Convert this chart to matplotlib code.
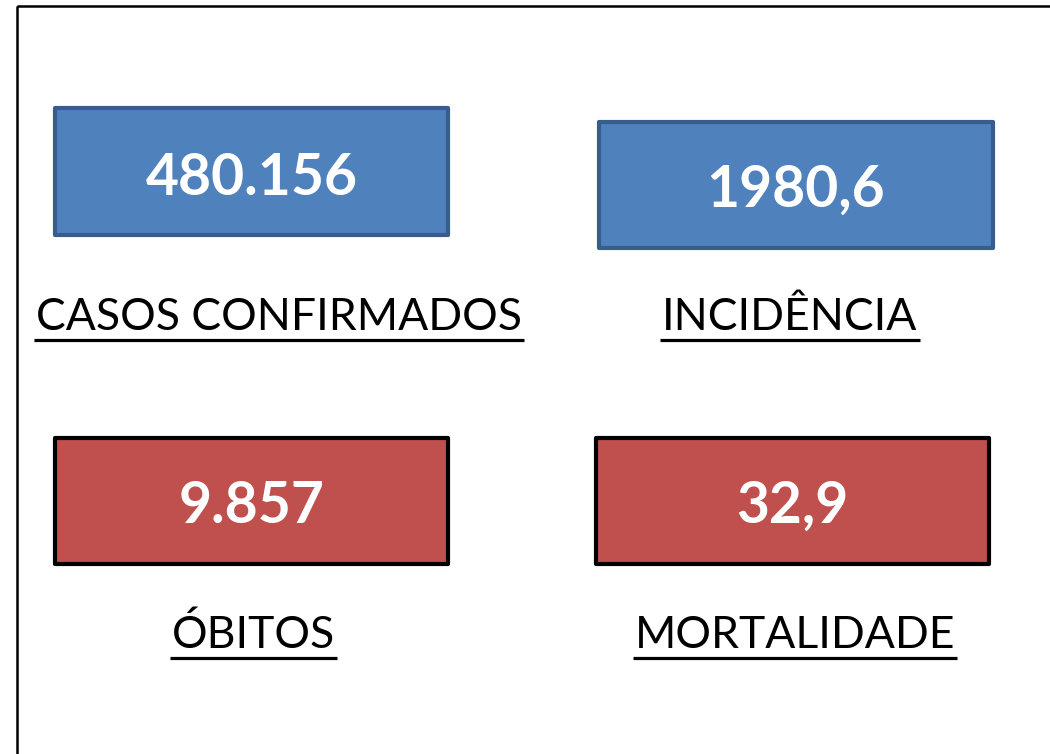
import matplotlib
matplotlib.use("Agg")
import matplotlib.pyplot as plt
from matplotlib.patches import Rectangle

# ---- data ----
values = ["480.156", "1980,6", "9.857", "32,9"]
labels = ["CASOS CONFIRMADOS", "INCIDÊNCIA", "ÓBITOS", "MORTALIDADE"]
fill_colors = ["#4F81BD", "#4F81BD", "#C0504D", "#C0504D"]
edge_colors = ["#385D8A", "#385D8A", "#000000", "#000000"]

# ---- layout (pixel coordinates) ----
W, H = 1050, 754
boxes = [(55, 108, 448, 235), (599, 122, 993, 248),
         (55, 438, 448, 564), (596, 438, 989, 564)]
value_baselines = [195, 207, 523, 523]
label_pos = [(279, 330), (790, 330), (253.5, 648), (795, 648)]

fig = plt.figure(figsize=(W / 100, H / 100), dpi=100)
ax = fig.add_axes([0, 0, 1, 1])
ax.set_xlim(0, W)
ax.set_ylim(H, 0)
ax.axis("off")

# outer frame (extends beyond the image)
ax.add_patch(Rectangle((16.5, 5.5), W + 50, H + 50, fill=False,
                       edgecolor="black", linewidth=1.8))

for (x0, y0, x1, y1), fc, ec, v, bl in zip(boxes, fill_colors, edge_colors,
                                           values, value_baselines):
    ax.add_patch(Rectangle((x0, y0), x1 - x0, y1 - y0, facecolor=fc,
                           edgecolor=ec, linewidth=3.0, joinstyle="round"))
    ax.text((x0 + x1) / 2, bl, v, ha="center", va="baseline",
            fontsize=41, fontweight="bold", color="white", family="Lato")

fig.canvas.draw()
renderer = fig.canvas.get_renderer()
inv = ax.transData.inverted()
for lab, (cx, by) in zip(labels, label_pos):
    t = ax.text(cx, by, lab, ha="center", va="baseline", fontsize=32,
                color="black", family="Lato")
    bb = t.get_window_extent(renderer=renderer)
    (xa, _), (xb, _) = inv.transform([(bb.x0, bb.y0), (bb.x1, bb.y1)])
    ax.plot([xa - 2, xb + 2], [by + 10, by + 10], color="black",
            linewidth=2.3, solid_capstyle="butt")

fig.savefig("out.png", dpi=100, facecolor="white")
